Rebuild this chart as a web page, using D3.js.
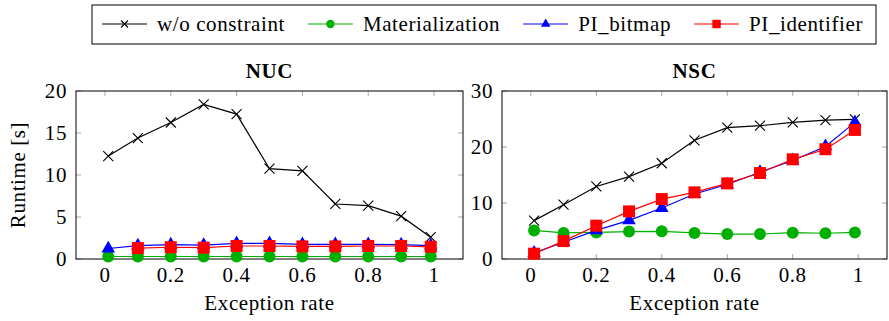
<!DOCTYPE html>
<style>
  body { margin: 0; }
  svg text { font-family: "Liberation Serif", "DejaVu Serif", serif; font-size: 21px; letter-spacing: 0.6px; }
</style>
<svg width="889" height="321" style="background-color: white; display: block"></svg>
<script src="https://d3js.org/d3.v7.min.js"></script>
<script>

var svg = d3.select("svg");

// exception rates (x) shared by every series
var rates = [0.01, 0.1, 0.2, 0.3, 0.4, 0.5, 0.6, 0.7, 0.8, 0.9, 0.99];

// NUC runtimes [s]
var nucPlain  = [12.25, 14.4, 16.25, 18.4, 17.25, 10.75, 10.5, 6.55, 6.35, 5.1, 2.6];
var nucMat    = [0.3, 0.3, 0.3, 0.3, 0.3, 0.3, 0.3, 0.3, 0.3, 0.3, 0.3];
var nucBitmap = [1.25, 1.6, 1.7, 1.65, 1.85, 1.85, 1.75, 1.75, 1.75, 1.7, 1.6];
var nucIdent  = [null, 1.3, 1.4, 1.35, 1.55, 1.55, 1.5, 1.5, 1.55, 1.55, 1.45];

// NSC runtimes [s]
var nscPlain  = [6.85, 9.7, 12.95, 14.7, 17.1, 21.2, 23.45, 23.8, 24.4, 24.8, 24.95];
var nscMat    = [5.1, 4.65, 4.75, 4.9, 4.95, 4.65, 4.45, 4.45, 4.7, 4.6, 4.75];
var nscBitmap = [1.1, 3.0, 5.1, 6.9, 9.1, 11.6, 13.3, 15.5, 17.6, 20.1, 24.4];
var nscIdent  = [0.95, 3.2, 5.95, 8.5, 10.7, 11.9, 13.5, 15.35, 17.8, 19.6, 23.05];

var seriesNames = ["w/o constraint", "Materialization", "PI_bitmap", "PI_identifier"];
var seriesColors = ["#000000", "#00b000", "#0000ff", "#ff0000"];
var seriesMarks = ["times", "circle", "triangle", "square"];

var xTicks = [0, 0.2, 0.4, 0.6, 0.8, 1];

var panels = [
  {title: "NUC", left: 76, right: 463, yMax: 20, yTicks: [0, 5, 10, 15, 20],
   data: [nucPlain, nucMat, nucBitmap, nucIdent], yLabel: "Runtime [s]"},
  {title: "NSC", left: 502, right: 887, yMax: 30, yTicks: [0, 10, 20, 30],
   data: [nscPlain, nscMat, nscBitmap, nscIdent], yLabel: null}
];

var plotTop = 91, plotBottom = 259;

function drawMark(g, kind, color, s) {
  if (kind == "times") {
    g.append("path")
      .attr("d", "M" + -s + "," + -s + "L" + s + "," + s + "M" + -s + "," + s + "L" + s + "," + -s)
      .attr("stroke", color).attr("stroke-width", 1.1).attr("fill", "none");
  } else if (kind == "circle") {
    g.append("circle").attr("r", s * 1.2).attr("fill", color);
  } else if (kind == "square") {
    g.append("rect").attr("x", -s * 1.2).attr("y", -s * 1.2)
      .attr("width", s * 2.4).attr("height", s * 2.4).attr("fill", color);
  } else {
    g.append("path")
      .attr("d", d3.symbol().type(d3.symbolTriangle).size(s * s * 3.2)())
      .attr("fill", color);
  }
}

panels.forEach(function(p) {
  var x = d3.scaleLinear().domain([-0.088, 1.088]).range([p.left, p.right]);
  var y = d3.scaleLinear().domain([0, p.yMax]).range([plotBottom, plotTop]);
  var g = svg.append("g");

  // inward ticks on all four sides
  var tk = g.append("g").attr("stroke", "#a8a8a8").attr("stroke-width", 1);
  xTicks.forEach(function(t) {
    tk.append("line").attr("x1", x(t)).attr("x2", x(t)).attr("y1", plotBottom).attr("y2", plotBottom - 5);
    tk.append("line").attr("x1", x(t)).attr("x2", x(t)).attr("y1", plotTop).attr("y2", plotTop + 5);
  });
  p.yTicks.forEach(function(t) {
    tk.append("line").attr("y1", y(t)).attr("y2", y(t)).attr("x1", p.left).attr("x2", p.left + 5);
    tk.append("line").attr("y1", y(t)).attr("y2", y(t)).attr("x1", p.right).attr("x2", p.right - 5);
  });

  g.append("rect")
    .attr("x", p.left).attr("y", plotTop)
    .attr("width", p.right - p.left).attr("height", plotBottom - plotTop)
    .attr("fill", "none").attr("stroke", "#000").attr("stroke-width", 1);

  g.selectAll(".xt").data(xTicks).enter().append("text")
    .attr("x", function(d) { return x(d); })
    .attr("y", 282)
    .attr("text-anchor", "middle")
    .text(function(d) { return d3.format("")(d); });

  g.selectAll(".yt").data(p.yTicks).enter().append("text")
    .attr("x", p.left - 9)
    .attr("y", function(d) { return y(d) + 7; })
    .attr("text-anchor", "end")
    .text(function(d) { return d; });

  g.append("text")
    .attr("x", (p.left + p.right) / 2).attr("y", 78)
    .attr("text-anchor", "middle").attr("font-weight", "bold")
    .text(p.title);

  g.append("text")
    .attr("x", (p.left + p.right) / 2).attr("y", 310)
    .attr("text-anchor", "middle")
    .text("Exception rate");

  if (p.yLabel) {
    g.append("text")
      .attr("transform", "translate(25," + (plotTop + plotBottom) / 2 + ") rotate(-90)")
      .attr("text-anchor", "middle")
      .text(p.yLabel);
  }

  var line = d3.line()
    .defined(function(d) { return d[1] != null; })
    .x(function(d) { return x(d[0]); })
    .y(function(d) { return y(d[1]); });

  p.data.forEach(function(vals, i) {
    var pts = rates.map(function(r, j) { return [r, vals[j]]; });
    var sg = g.append("g");
    sg.append("path")
      .attr("d", line(pts))
      .attr("fill", "none")
      .attr("stroke", seriesColors[i])
      .attr("stroke-width", 1.2);
    pts.filter(function(d) { return d[1] != null; }).forEach(function(d) {
      var m = sg.append("g").attr("transform", "translate(" + x(d[0]) + "," + y(d[1]) + ")");
      drawMark(m, seriesMarks[i], seriesColors[i], 5);
    });
  });
});

// legend
var lg = svg.append("g");
var boxL = 92, boxR = 876, boxT = 5, boxB = 44, midY = 24;
lg.append("rect")
  .attr("x", boxL).attr("y", boxT)
  .attr("width", boxR - boxL).attr("height", boxB - boxT)
  .attr("fill", "white").attr("stroke", "#000").attr("stroke-width", 1);

var items = seriesNames.map(function(name, i) {
  var ig = lg.append("g");
  var t = ig.append("text").attr("y", midY + 7).text(name);
  return {g: ig, t: t, w: t.node().getComputedTextLength(), i: i};
});
var lineLen = 45, gapText = 10, padL = 10, padR = 13;
var used = d3.sum(items, function(d) { return lineLen + gapText + d.w; });
var gap = (boxR - boxL - padL - padR - used) / (items.length - 1);
var cx = boxL + padL;
items.forEach(function(it) {
  var c = seriesColors[it.i];
  it.g.append("line")
    .attr("x1", cx).attr("x2", cx + lineLen).attr("y1", midY).attr("y2", midY)
    .attr("stroke", c).attr("stroke-width", 1.2);
  var m = it.g.append("g").attr("transform", "translate(" + (cx + lineLen / 2) + "," + midY + ")");
  drawMark(m, seriesMarks[it.i], c, 3.5);
  it.t.attr("x", cx + lineLen + gapText);
  cx += lineLen + gapText + it.w + gap;
});

</script>
